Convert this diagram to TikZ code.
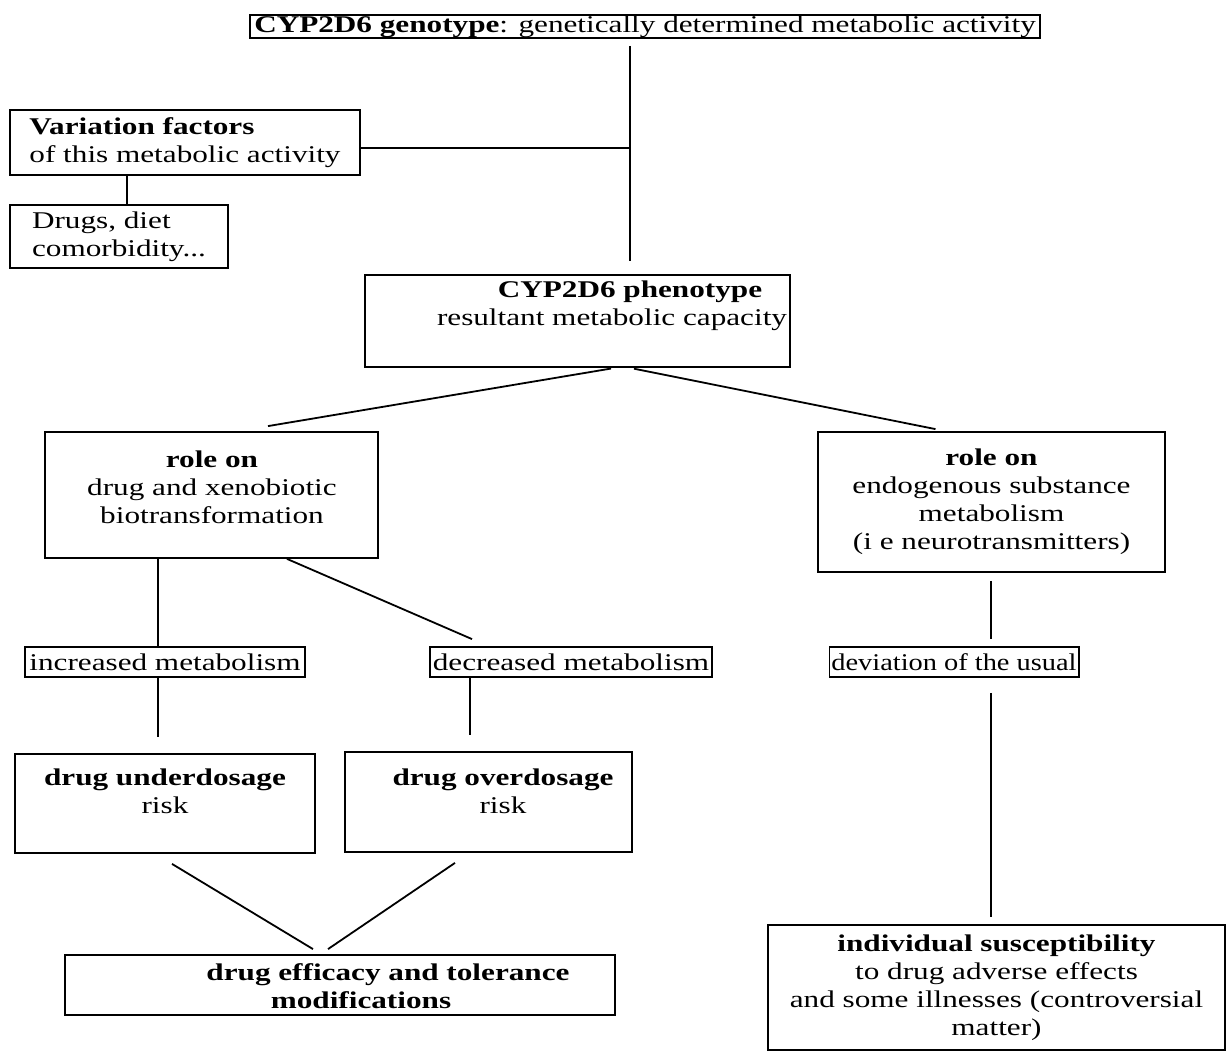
\documentclass[tikz,border=0pt]{standalone}
\usepackage{fontspec}
\setmainfont{Liberation Serif}[FakeStretch=1.3]
\usepackage{tikz}

\begin{document}
\begin{tikzpicture}[x=0.5pt,y=-0.5pt,line width=0.9pt,
  box/.style={draw,rectangle,inner sep=1pt,font=\fontsize{12}{14}\selectfont},
  tag/.style={draw,rectangle,inner xsep=1pt,inner ysep=0pt,minimum height=15pt,font=\fontsize{12}{14}\selectfont},
  txt/.style={align=center,inner sep=0pt,font=\fontsize{12}{14}\selectfont}]
  \useasboundingbox (0,0) rectangle (1232,1052);
  % boxes
  \node[box,minimum width=395pt,minimum height=11.5pt,inner ysep=0pt] (geno) at (645,26.5) {\textbf{CYP2D6 genotype}: genetically determined metabolic activity};
  \node[box,align=left,minimum width=175pt,minimum height=32.5pt] (vf) at (185,142.5) {\textbf{Variation factors}\\of this metabolic activity};
  \node[box,align=left,minimum width=109pt,minimum height=31.5pt] (drugs) at (119,236.5) {Drugs, diet\\comorbidity...};
  \node[box,minimum width=212.5pt,minimum height=46pt] (pheno) at (577.5,321) {};
  \node[txt] (phenoT) at (612,306) {\hspace*{18pt}\textbf{CYP2D6 phenotype}\\resultant metabolic capacity};
  \node[box,minimum width=166.5pt,minimum height=63pt] (roleL) at (211.5,495) {};
  \node[txt] (roleLT) at (212,487) {\textbf{role on}\\drug and xenobiotic\\biotransformation};
  \node[box,align=center,minimum width=173.5pt,minimum height=70pt] (roleR) at (991.5,502) {\textbf{role on}\\endogenous substance\\metabolism\\(i e neurotransmitters)};
  \node[tag,minimum width=140pt] (inc) at (165,662) {increased metabolism};
  \node[tag,minimum width=141pt] (dec) at (571,662) {decreased metabolism};
  \node[tag,minimum width=124pt] (dev) at (954,662) {\scalebox{0.91}[1]{deviation of the usual}};
  \node[box,minimum width=150pt,minimum height=49.5pt] (ud) at (165,803.5) {};
  \node[txt] (udT) at (165,791) {\textbf{drug underdosage}\\risk};
  \node[box,minimum width=143.5pt,minimum height=50pt] (od) at (488.5,802) {};
  \node[txt] (odT) at (503,791) {\textbf{drug overdosage}\\risk};
  \node[box,minimum width=275pt,minimum height=30pt] (eff) at (340,985) {};
  \node[txt] (effT) at (388,986) {\textbf{drug efficacy and tolerance}\\\textbf{modifications}\hspace*{27pt}};
  \node[box,align=center,minimum width=228.5pt,minimum height=62.5pt] (ind) at (996.5,987.5) {\textbf{individual susceptibility}\\to drug adverse effects\\and some illnesses (controversial\\matter)};
  % columns of the vertical links
  \coordinate (spine) at (630,148);
  \coordinate (colV) at (127,0);
  \coordinate (colA) at (158,0);
  \coordinate (colB) at (470,0);
  \coordinate (colC) at (991,0);
  % links
  \draw[shorten <=3.5pt,shorten >=6.5pt] (geno.south -| spine) -- (pheno.north -| spine);
  \draw (vf.east |- spine) -- (spine);
  \draw (vf.south -| colV) -- (drugs.north -| colV);
  \draw[shorten <=2pt] ([xshift=18.75pt]pheno.south) -- ([xshift=28.25pt,yshift=2.5pt]roleL.north);
  \draw[shorten <=2pt] ([xshift=26.25pt]pheno.south) -- ([xshift=-28pt,yshift=1pt]roleR.north);
  \draw (roleL.south -| colA) -- (inc.north -| colA);
  \draw ([xshift=37.75pt]roleL.south) -- ([xshift=-49.5pt,yshift=3.5pt]dec.north);
  \draw[shorten >=8pt] (inc.south -| colA) -- (ud.north -| colA);
  \draw[shorten >=8pt] (dec.south -| colB) -- (od.north -| colB);
  \draw[shorten <=4pt,shorten >=3.5pt] (roleR.south -| colC) -- (dev.north -| colC);
  \draw[shorten <=7.5pt,shorten >=3.5pt] (dev.south -| colC) -- (ind.north -| colC);
  \draw ([xshift=3.5pt,yshift=-5pt]ud.south) -- ([xshift=-13.5pt,yshift=2.5pt]eff.north);
  \draw ([xshift=-16.75pt,yshift=-5pt]od.south) -- ([xshift=-6pt,yshift=2.5pt]eff.north);
\end{tikzpicture}
\end{document}
